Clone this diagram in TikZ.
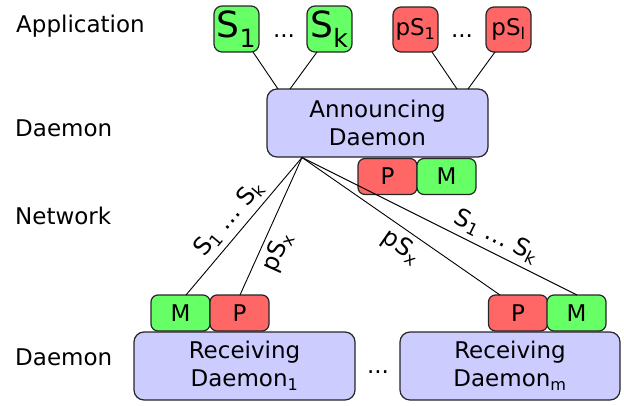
\documentclass[tikz,border=0pt]{standalone}
\usepackage{fontspec}
\setmainfont{DejaVu Sans}
\usetikzlibrary{calc}
\definecolor{gbox}{HTML}{66FF66}
\definecolor{rbox}{HTML}{FF6666}
\definecolor{dbox}{HTML}{CCCCFF}
\newcommand\sbs[1]{\textsubscript{#1}}
\begin{document}
\begin{tikzpicture}[x=1pt,y=-1pt,
  font=\fontsize{23}{28}\selectfont,
  base/.style={draw=black!85, line width=1.2pt, inner sep=0pt, anchor=center},
  appg/.style={base, fill=gbox, rounded corners=8pt, minimum width=45pt, minimum height=46pt},
  appr/.style={base, fill=rbox, rounded corners=8pt, minimum width=45pt, minimum height=45pt},
  pbox/.style={base, fill=rbox, rounded corners=7pt, minimum width=59pt, minimum height=36pt},
  mbox/.style={base, fill=gbox, rounded corners=7pt, minimum width=59pt, minimum height=36pt},
  dmn/.style={base, fill=dbox, rounded corners=10pt, minimum width=221pt, minimum height=68pt, align=center},
  lbl/.style={anchor=base west, inner sep=0pt},
  conn/.style={line width=0.9pt},
  netlbl/.style={sloped, inner sep=5pt, font=\fontsize{24}{28}\selectfont},
  big/.style={font=\fontsize{36}{40}\selectfont}
]
\useasboundingbox (0,0) rectangle (624,405);

% layer labels
\node[lbl] (la) at (16,32) {Application};
\node[lbl] (ld1) at (15,136) {Daemon};
\node[lbl] (ln) at (15,224) {Network};
\node[lbl] (ld2) at (15,365) {Daemon};

% application services
\node[appg, big] (s1) at (236.5,29) {S\sbs{1}};
\node[appg, big] (sk) at (329.5,29) {S\sbs{k}};
\node (d1) at (284,36) {...};
\node[appr] (p1) at (415.5,29.5) {pS\sbs{1}};
\node[appr] (pl) at (508.5,29.5) {pS\sbs{l}};
\node (d2) at (462,36) {...};

% announcing daemon
\node[dmn] (ad) at (377.5,123) {Announcing\\Daemon};
\node[pbox] (ap) at (387.5,176.5) {P};
\node[mbox] (am) at (446.5,176.5) {M};

% receiving daemons
\node[dmn] (r1) at (244.5,366) {Receiving\\Daemon\sbs{1}};
\node[dmn, minimum width=220pt] (rm) at (510,366) {Receiving\\Daemon\sbs{m}};
\node (d3) at (378,372) {...};
\node[mbox] (m1) at (180.5,313) {M};
\node[pbox] (q1) at (239.5,313) {P};
\node[pbox] (q2) at (518,313) {P};
\node[mbox] (m2) at (576.5,313) {M};

% application connectors
\coordinate (s1b) at (253,52);
\coordinate (skb) at (317,52);
\coordinate (p1b) at (432,52);
\coordinate (plb) at (495,52);
\coordinate (a1) at (278,89);
\coordinate (a2) at (290,89);
\coordinate (a3) at (457,89);
\coordinate (a4) at (468,89);
\draw[conn] (s1b) -- (a1);
\draw[conn] (skb) -- (a2);
\draw[conn] (p1b) -- (a3);
\draw[conn] (plb) -- (a4);

% network connectors
\coordinate (src) at (302,157.5);
\coordinate (e1) at (186,295);
\coordinate (e2) at (240,295);
\coordinate (e3) at (500,295);
\coordinate (e4) at (577,295);
\draw[conn] (src) -- node[netlbl, above, pos=0.52] {S\sbs{1} … S\sbs{k}} (e1);
\draw[conn] (src) -- node[netlbl, below, pos=0.64] {pS\sbs{x}} (e2);
\draw[conn] (src) -- node[netlbl, below, pos=0.55] {pS\sbs{x}} (e3);
\draw[conn] (src) -- node[netlbl, above, pos=0.68] {S\sbs{1} … S\sbs{k}} (e4);
\end{tikzpicture}
\end{document}
